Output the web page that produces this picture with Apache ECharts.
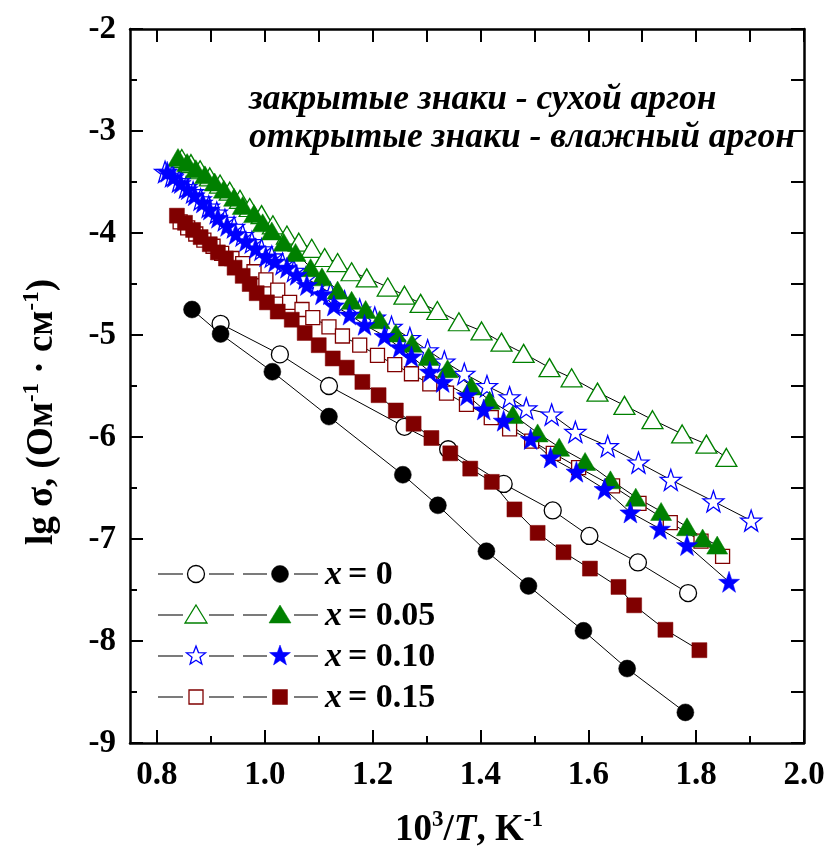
<!DOCTYPE html>
<html>
<head>
<meta charset="utf-8">
<script src="https://cdn.jsdelivr.net/npm/echarts@6/dist/echarts.min.js"></script>
<style>
  html, body { margin: 0; padding: 0; background: #fff; }
  #chart { width: 829px; height: 859px; }
</style>
</head>
<body>
<div id="chart"></div>
<script>
// lg σ versus 10^3/T for x = 0 ... 0.15; open symbols – wet argon, filled – dry argon
const xMajorTicks = [0.8, 1.0, 1.2, 1.4, 1.6, 1.8, 2.0];
const xMinorTicks = [0.9, 1.1, 1.3, 1.5, 1.7, 1.9];
const legendLabels = ['0', '0.05', '0.10', '0.15'];

const wetX0 = [[0.918,-4.89],[1.028,-5.19],[1.119,-5.50],[1.259,-5.90],[1.340,-6.12],[1.443,-6.46],[1.534,-6.72],[1.602,-6.97],[1.692,-7.23],[1.785,-7.53]];
const dryX0 = [[0.865,-4.75],[0.918,-4.99],[1.014,-5.36],[1.119,-5.80],[1.256,-6.37],[1.321,-6.67],[1.411,-7.12],[1.489,-7.46],[1.591,-7.90],[1.672,-8.27],[1.780,-8.70]];

const wetX05 = [[0.846,-3.27],[0.863,-3.32],[0.880,-3.38],[0.898,-3.45],[0.917,-3.52],[0.935,-3.59],[0.954,-3.67],[0.972,-3.75],[0.994,-3.82],[1.015,-3.92],[1.041,-4.02],[1.063,-4.09],[1.087,-4.15],[1.111,-4.24],[1.135,-4.29],[1.161,-4.38],[1.189,-4.44],[1.228,-4.53],[1.259,-4.61],[1.289,-4.69],[1.320,-4.76],[1.360,-4.87],[1.402,-4.96],[1.439,-5.07],[1.480,-5.18],[1.528,-5.32],[1.569,-5.42],[1.617,-5.56],[1.667,-5.69],[1.719,-5.83],[1.774,-5.97],[1.819,-6.07],[1.856,-6.20]];
const dryX05 = [[0.839,-3.26],[0.856,-3.31],[0.872,-3.37],[0.889,-3.43],[0.907,-3.50],[0.924,-3.57],[0.943,-3.65],[0.959,-3.73],[0.980,-3.81],[0.996,-3.90],[1.013,-3.98],[1.035,-4.09],[1.057,-4.19],[1.085,-4.34],[1.106,-4.43],[1.135,-4.56],[1.161,-4.66],[1.187,-4.75],[1.213,-4.85],[1.243,-4.98],[1.273,-5.08],[1.304,-5.21],[1.339,-5.33],[1.383,-5.50],[1.417,-5.64],[1.460,-5.78],[1.506,-5.96],[1.546,-6.10],[1.594,-6.24],[1.641,-6.42],[1.688,-6.59],[1.735,-6.73],[1.783,-6.88],[1.812,-6.99],[1.839,-7.06]];

const wetX10 = [[0.815,-3.40],[0.828,-3.44],[0.841,-3.49],[0.854,-3.55],[0.867,-3.60],[0.881,-3.67],[0.896,-3.74],[0.911,-3.80],[0.926,-3.87],[0.943,-3.94],[0.959,-4.02],[0.976,-4.09],[0.994,-4.16],[1.013,-4.23],[1.033,-4.30],[1.054,-4.37],[1.076,-4.44],[1.098,-4.51],[1.122,-4.59],[1.148,-4.67],[1.176,-4.75],[1.204,-4.83],[1.235,-4.92],[1.269,-5.03],[1.302,-5.15],[1.333,-5.26],[1.370,-5.38],[1.412,-5.50],[1.454,-5.61],[1.485,-5.72],[1.532,-5.78],[1.576,-5.95],[1.636,-6.09],[1.693,-6.25],[1.753,-6.42],[1.832,-6.63],[1.902,-6.82]];
const dryX10 = [[0.819,-3.40],[0.831,-3.45],[0.844,-3.51],[0.857,-3.57],[0.870,-3.63],[0.885,-3.70],[0.898,-3.77],[0.913,-3.85],[0.930,-3.93],[0.946,-4.01],[0.965,-4.08],[0.983,-4.15],[1.002,-4.23],[1.019,-4.28],[1.041,-4.34],[1.059,-4.41],[1.078,-4.51],[1.106,-4.60],[1.128,-4.71],[1.157,-4.80],[1.185,-4.90],[1.222,-5.01],[1.250,-5.12],[1.272,-5.21],[1.306,-5.36],[1.330,-5.46],[1.375,-5.59],[1.406,-5.73],[1.443,-5.84],[1.493,-6.02],[1.530,-6.20],[1.578,-6.34],[1.630,-6.51],[1.678,-6.74],[1.733,-6.90],[1.783,-7.06],[1.861,-7.42]];

const wetX15 = [[0.843,-3.89],[0.857,-3.95],[0.872,-4.01],[0.887,-4.07],[0.904,-4.13],[0.920,-4.20],[0.939,-4.25],[0.959,-4.30],[0.980,-4.38],[1.002,-4.46],[1.024,-4.56],[1.046,-4.68],[1.069,-4.75],[1.089,-4.83],[1.119,-4.92],[1.144,-5.01],[1.176,-5.10],[1.209,-5.20],[1.241,-5.29],[1.272,-5.38],[1.306,-5.48],[1.337,-5.57],[1.374,-5.68],[1.420,-5.81],[1.454,-5.92],[1.495,-6.04],[1.535,-6.16],[1.582,-6.30],[1.645,-6.48],[1.694,-6.65],[1.752,-6.84],[1.809,-7.02],[1.849,-7.17]];
const dryX15 = [[0.837,-3.83],[0.852,-3.90],[0.867,-3.97],[0.881,-4.04],[0.898,-4.11],[0.913,-4.19],[0.928,-4.25],[0.944,-4.34],[0.959,-4.42],[0.972,-4.50],[0.985,-4.59],[1.004,-4.68],[1.024,-4.77],[1.050,-4.85],[1.074,-4.98],[1.100,-5.10],[1.126,-5.23],[1.152,-5.32],[1.181,-5.46],[1.211,-5.59],[1.243,-5.74],[1.276,-5.87],[1.309,-6.01],[1.344,-6.16],[1.381,-6.31],[1.421,-6.44],[1.463,-6.71],[1.506,-6.94],[1.554,-7.13],[1.603,-7.29],[1.656,-7.47],[1.685,-7.65],[1.743,-7.89],[1.806,-8.09]];

const SERIF = "'Liberation Serif', 'Times New Roman', serif";
const BLACK = '#000000', GREEN = '#008000', BLUE = '#0000ff', DARKRED = '#800000';
const STAR = 'path://M0,-10L2.35,-3.24L9.51,-3.09L3.8,1.24L5.88,8.09L0,4L-5.88,8.09L-3.8,1.24L-9.51,-3.09L-2.35,-3.24Z';

function lineSeries(name, data, symbol, size, color, open) {
  return {
    name, type: 'line', data, symbol, symbolSize: size,
    showSymbol: true, animation: false, silent: true,
    xAxisIndex: 0, yAxisIndex: 0,
    lineStyle: { color: BLACK, width: 1 },
    itemStyle: open
      ? { color: '#ffffff', borderColor: color, borderWidth: 1.3, opacity: 1 }
      : { color: color, borderColor: color, borderWidth: 0.5, opacity: 1 },
    emphasis: { disabled: true }
  };
}

const series = [
  lineSeries('wet 0', wetX0, 'circle', 17, BLACK, true),
  lineSeries('wet 0.05', wetX05, 'triangle', [21, 18], GREEN, true),
  lineSeries('wet 0.10', wetX10, STAR, 21, BLUE, true),
  lineSeries('wet 0.15', wetX15, 'rect', 14, DARKRED, true),
  lineSeries('dry 0.15', dryX15, 'rect', 15, DARKRED, false),
  lineSeries('dry 0', dryX0, 'circle', 17, BLACK, false),
  lineSeries('dry 0.05', dryX05, 'triangle', [21, 18], GREEN, false),
  lineSeries('dry 0.10', dryX10, STAR, 21, BLUE, false)
];

// legend block drawn as graphic elements: open symbol, filled symbol, label
const rowY = [574, 615, 656, 697];
const legendColors = [BLACK, GREEN, BLUE, DARKRED];
function starPoints(cx, cy, r, r0) {
  const pts = [];
  for (let k = 0; k < 10; k++) {
    const a = -Math.PI / 2 + k * Math.PI / 5;
    const rr = k % 2 === 0 ? r : r0;
    pts.push([cx + rr * Math.cos(a), cy + rr * Math.sin(a)]);
  }
  return pts;
}
function legendSymbol(kind, cx, cy, color, open) {
  const style = open
    ? { fill: '#ffffff', stroke: color, lineWidth: 1.3 }
    : { fill: color, stroke: color, lineWidth: 0.5 };
  if (kind === 0) return { type: 'circle', shape: { cx, cy, r: 8.5 }, style };
  if (kind === 1) return { type: 'polygon', shape: { points: [[cx, cy - 10], [cx + 11, cy + 8], [cx - 11, cy + 8]] }, style };
  if (kind === 2) return { type: 'polygon', shape: { points: starPoints(cx, cy, open ? 10 : 11, open ? 4.2 : 4.5) }, style };
  const h = open ? 7 : 7.5;
  return { type: 'rect', shape: { x: cx - h, y: cy - h, width: 2 * h, height: 2 * h }, style };
}
const graphics = [];
legendLabels.forEach((lab, i) => {
  const y = rowY[i];
  const ls = { stroke: '#222', lineWidth: 1.2 };
  [[158, 183], [209, 234], [243, 267], [294, 318]].forEach(([a, b]) => {
    graphics.push({ type: 'line', shape: { x1: a, y1: y, x2: b, y2: y }, style: ls, silent: true });
  });
  graphics.push(legendSymbol(i, 196, y, legendColors[i], true));
  graphics.push(legendSymbol(i, 280, y, legendColors[i], false));
  graphics.push({
    type: 'text', x: 325, y: y + 1, silent: true,
    style: {
      text: '{i|x}{g| }{n|= ' + lab + '}',
      textVerticalAlign: 'middle', verticalAlign: 'middle',
      rich: {
        i: { fontFamily: SERIF, fontSize: 34, fontStyle: 'italic', fontWeight: 'bold', fill: BLACK },
        g: { fontFamily: SERIF, fontSize: 34, fontWeight: 'bold', fill: BLACK, width: 6 },
        n: { fontFamily: SERIF, fontSize: 34, fontWeight: 'bold', fill: BLACK }
      }
    }
  });
});

// notes in the upper right
graphics.push({
  type: 'text', x: 249, y: 100, silent: true,
  style: { text: 'закрытые знаки - сухой аргон', fontFamily: SERIF, fontSize: 35.5, fontStyle: 'italic', fontWeight: 'bold', fill: BLACK, verticalAlign: 'middle' }
});
graphics.push({
  type: 'text', x: 249, y: 138, silent: true,
  style: { text: 'открытые знаки - влажный аргон', fontFamily: SERIF, fontSize: 35.5, fontStyle: 'italic', fontWeight: 'bold', fill: BLACK, verticalAlign: 'middle' }
});

// axis titles
graphics.push({
  type: 'text', x: 42, y: 412, rotation: Math.PI / 2, silent: true,
  style: {
    text: '{b|lg σ, (Ом}{s|-1}{b| · см}{s|-1}{b|)}',
    align: 'center', verticalAlign: 'middle',
    rich: {
      b: { fontFamily: SERIF, fontSize: 37, fontWeight: 'bold', fill: BLACK },
      s: { fontFamily: SERIF, fontSize: 23, fontWeight: 'bold', fill: BLACK, padding: [0, 0, 20, 0] }
    }
  }
});
graphics.push({
  type: 'text', x: 469, y: 830, silent: true,
  style: {
    text: '{b|10}{s|3}{b|/}{i|T}{b|, K}{s|-1}',
    align: 'center', verticalAlign: 'middle',
    rich: {
      b: { fontFamily: SERIF, fontSize: 37, fontWeight: 'bold', fill: BLACK },
      i: { fontFamily: SERIF, fontSize: 37, fontWeight: 'bold', fontStyle: 'italic', fill: BLACK },
      s: { fontFamily: SERIF, fontSize: 23, fontWeight: 'bold', fill: BLACK, padding: [0, 0, 20, 0] }
    }
  }
});

const labelStyle = { fontFamily: SERIF, fontSize: 33, fontWeight: 'bold', color: BLACK };
const frameLine = { show: true, onZero: false, lineStyle: { color: BLACK, width: 2.5 } };

const option = {
  backgroundColor: '#ffffff',
  animation: false,
  grid: { left: 130, right: 25, top: 29, bottom: 116, containLabel: false },
  xAxis: [
    {
      type: 'value', position: 'bottom', min: 0.75, max: 2.0,
      axisLine: frameLine,
      axisTick: { show: true, inside: true, length: 13, customValues: xMajorTicks, lineStyle: { color: BLACK, width: 2 } },
      axisLabel: { customValues: xMajorTicks, margin: 16, formatter: v => v.toFixed(1), ...labelStyle },
      splitLine: { show: false }
    },
    {
      type: 'value', position: 'bottom', min: 0.75, max: 2.0,
      axisLine: { show: false },
      axisTick: { show: true, inside: true, length: 7, customValues: xMinorTicks, lineStyle: { color: BLACK, width: 2 } },
      axisLabel: { show: false },
      splitLine: { show: false }
    },
    {
      type: 'value', position: 'top', min: 0.75, max: 2.0,
      axisLine: frameLine,
      axisTick: { show: true, inside: true, length: 13, customValues: xMajorTicks.concat(xMinorTicks), lineStyle: { color: BLACK, width: 2 } },
      axisLabel: { show: false },
      splitLine: { show: false }
    }
  ],
  yAxis: [
    {
      type: 'value', position: 'left', min: -9, max: -2, interval: 1,
      axisLine: frameLine,
      axisTick: { show: true, inside: true, length: 13, lineStyle: { color: BLACK, width: 2 } },
      minorTick: { show: true, splitNumber: 2, length: 7, lineStyle: { color: BLACK, width: 2 } },
      axisLabel: { margin: 14, ...labelStyle },
      splitLine: { show: false }, minorSplitLine: { show: false }
    },
    {
      type: 'value', position: 'right', min: -9, max: -2, interval: 0.5,
      axisLine: frameLine,
      axisTick: { show: true, inside: true, length: 13, lineStyle: { color: BLACK, width: 2 } },
      axisLabel: { show: false },
      splitLine: { show: false }
    }
  ],
  series,
  graphic: { elements: graphics }
};

const chart = echarts.init(document.getElementById('chart'), null, { renderer: 'canvas' });
chart.setOption(option);
</script>
</body>
</html>
